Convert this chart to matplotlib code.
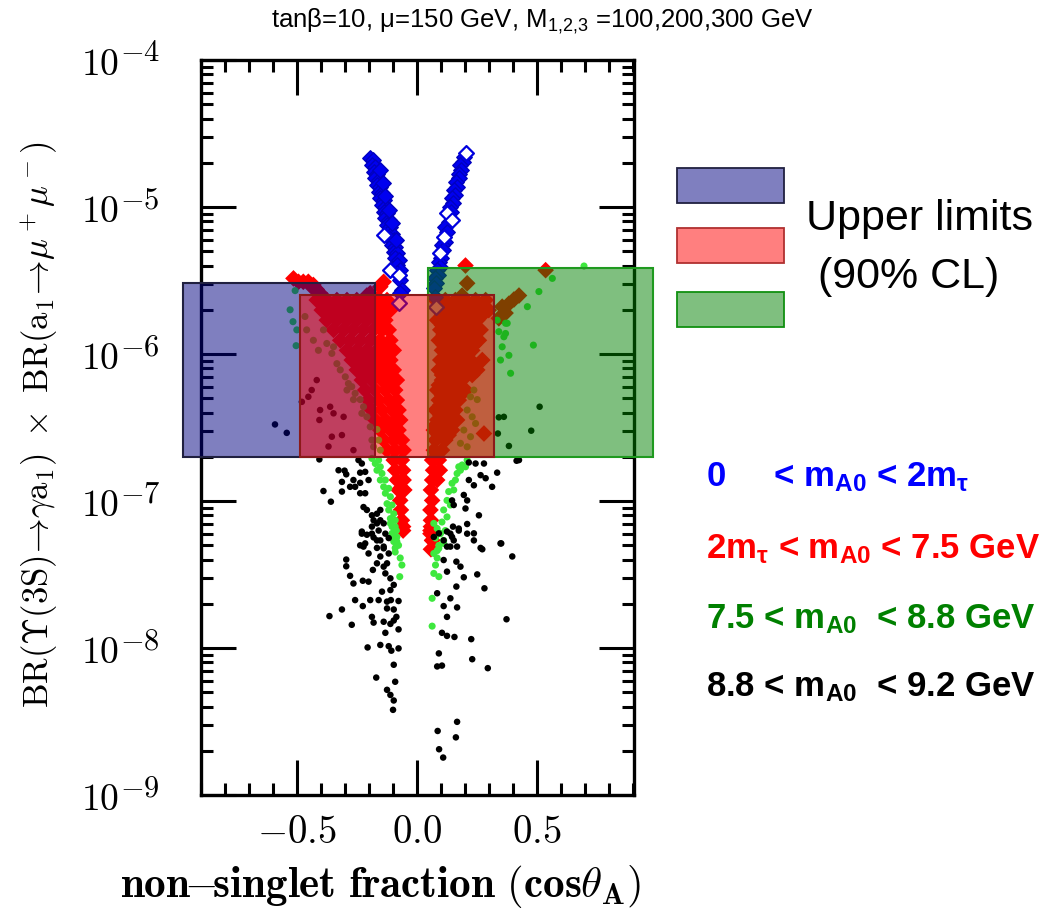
import matplotlib
matplotlib.use("Agg")
import matplotlib.pyplot as plt
from matplotlib.patches import Rectangle
from matplotlib.ticker import FixedLocator, MultipleLocator, NullFormatter
from matplotlib.transforms import blended_transform_factory, offset_copy
import numpy as np

plt.rcParams['mathtext.fontset'] = 'cm'
plt.rcParams['mathtext.rm'] = 'Liberation Sans'
plt.rcParams['mathtext.it'] = 'Liberation Sans:italic'
plt.rcParams['mathtext.bf'] = 'Liberation Sans:bold'

# ---------------- data ----------------
blue_x = [-0.195,-0.184,-0.188,-0.174,-0.181,-0.167,-0.174,-0.160,-0.167,-0.153,-0.160,-0.146,-0.153,-0.139,
          -0.146,-0.132,-0.139,-0.125,-0.132,-0.118,-0.125,-0.111,-0.118,-0.104,-0.136,-0.111,-0.097,-0.104,
          -0.091,-0.097,-0.084,-0.091,-0.077,-0.084,-0.111,-0.072,-0.077,-0.070,-0.084,-0.063,-0.070,-0.077,
          -0.153,-0.142,-0.132,-0.118,-0.104,-0.086,
          0.205,0.195,0.192,0.181,0.184,0.174,0.175,0.164,0.167,0.156,0.160,0.146,0.150,0.136,0.142,0.125,
          0.146,0.132,0.118,0.125,0.111,0.116,0.104,0.109,0.097,0.102,0.091,0.095,0.084,0.086,0.077,0.081,
          0.072,0.077,0.081]
blue_y = [2.14e-5,2.09e-5,1.93e-5,1.88e-5,1.74e-5,1.69e-5,1.57e-5,1.53e-5,1.41e-5,1.37e-5,1.27e-5,1.24e-5,
          1.15e-5,1.12e-5,1.03e-5,1.00e-5,9.3e-6,9.06e-6,8.4e-6,8.2e-6,7.55e-6,7.35e-6,6.8e-6,6.6e-6,6.45e-6,
          6.1e-6,5.96e-6,5.5e-6,5.37e-6,4.97e-6,4.84e-6,4.48e-6,4.36e-6,4.03e-6,3.73e-6,3.73e-6,3.45e-6,
          3.19e-6,3.54e-6,2.72e-6,2.59e-6,2.21e-6,
          1.79e-5,1.45e-5,1.18e-5,9.5e-6,7.8e-6,5.96e-6,
          2.32e-5,2.20e-5,2.03e-5,1.93e-5,1.79e-5,1.69e-5,1.57e-5,1.49e-5,1.37e-5,1.31e-5,1.21e-5,1.15e-5,
          1.06e-5,1.00e-5,9.3e-6,9.06e-6,8.2e-6,7.95e-6,7.35e-6,6.8e-6,6.28e-6,5.8e-6,5.5e-6,5.1e-6,4.84e-6,
          4.48e-6,4.25e-6,3.93e-6,3.73e-6,3.45e-6,3.27e-6,3.03e-6,2.80e-6,2.46e-6,2.10e-6]
blue_open_x = [-0.136,-0.111,-0.077,-0.077,0.205,0.125,0.146,0.111,0.097,0.081]
blue_open_y = [6.45e-6,3.73e-6,3.45e-6,2.21e-6,2.32e-5,9.06e-6,8.2e-6,6.28e-6,4.84e-6,2.10e-6]

red_x = [-0.515,-0.494,-0.474,-0.453,-0.439,-0.418,-0.404,-0.432,-0.139,-0.153,-0.160,-0.209,-0.195,
         -0.418,-0.376,-0.334,-0.292,-0.251,-0.209,-0.167,-0.125,
         -0.397,-0.355,-0.313,-0.272,-0.230,-0.188,-0.146,-0.111,
         -0.376,-0.334,-0.292,-0.251,-0.209,-0.167,-0.132,
         -0.348,-0.306,-0.265,-0.223,-0.181,-0.146,-0.118,
         -0.320,-0.279,-0.237,-0.195,-0.153,-0.111,
         -0.292,-0.251,-0.209,-0.167,-0.132,-0.097,
         -0.272,-0.230,-0.188,-0.146,-0.111,
         -0.251,-0.209,-0.167,-0.125,-0.097,
         -0.230,-0.188,-0.146,-0.111,-0.084,
         -0.216,-0.174,-0.132,-0.091,
         -0.202,-0.160,-0.118,-0.084,
         -0.188,-0.146,-0.104,-0.077,
         -0.174,-0.132,-0.091,-0.070,
         -0.153,-0.111,-0.077,
         -0.139,-0.097,-0.063,
         -0.125,-0.091,-0.056,
         -0.097,-0.063,-0.091,-0.058,-0.084,-0.056,-0.077,-0.053,
         -0.070,-0.067,-0.063,-0.058,-0.058,
         0.077,0.118,0.160,0.202,0.244,0.286,
         0.091,0.132,0.174,0.216,0.258,0.299,
         0.084,0.125,0.167,0.209,0.251,
         0.097,0.139,0.181,0.223,0.265,
         0.091,0.132,0.174,0.216,0.258,
         0.104,0.146,0.188,0.230,
         0.097,0.139,0.181,0.223,0.272,
         0.091,0.125,0.167,0.209,0.251,
         0.104,0.146,0.188,
         0.084,0.125,0.167,0.202,
         0.091,0.132,0.174,
         0.077,0.118,0.160,
         0.084,0.125,0.167,
         0.070,0.111,0.146,
         0.077,0.118,
         0.070,0.104,
         0.063,0.091,0.067,0.095,0.063,0.084,
         0.058,0.063,0.056,0.058,0.056,0.063,0.058,0.056,0.063,0.058,
         0.202,0.209,0.188,0.153,0.237,0.536,0.355,0.383,0.404,0.425,0.369,0.341,0.279,
         0.097,0.139,0.181,0.223,0.265,
         0.104,0.146,0.188,0.230,0.272,
         0.104,0.146,0.188,0.230,
         0.111,0.153,0.195,0.237,
         0.111,0.153,0.195,0.237,
         0.125,0.167,0.209,
         0.111,0.160,0.202,0.244,
         0.104,0.146,0.188,0.230,
         0.091,0.125,0.167,
         0.104,0.146,0.181,
         0.097,0.139,
         0.097,0.139,
         0.077,0.118,
         0.091,0.132]
red_y = [3.27e-6,3.1e-6,3.1e-6,3.1e-6,2.87e-6,2.75e-6,2.59e-6,2.95e-6,3.1e-6,2.87e-6,2.4e-6,2.5e-6,2.59e-6,
         2.33e-6,2.33e-6,2.33e-6,2.33e-6,2.33e-6,2.33e-6,2.33e-6,2.33e-6,
         1.99e-6,1.99e-6,1.99e-6,1.99e-6,1.99e-6,1.99e-6,1.99e-6,1.99e-6,
         1.70e-6,1.70e-6,1.70e-6,1.70e-6,1.70e-6,1.70e-6,1.70e-6,
         1.46e-6,1.46e-6,1.46e-6,1.46e-6,1.46e-6,1.46e-6,1.46e-6,
         1.24e-6,1.24e-6,1.24e-6,1.24e-6,1.24e-6,1.24e-6,
         1.06e-6,1.06e-6,1.06e-6,1.06e-6,1.06e-6,1.06e-6,
         9.1e-7,9.1e-7,9.1e-7,9.1e-7,9.1e-7,
         7.8e-7,7.8e-7,7.8e-7,7.8e-7,7.8e-7,
         6.65e-7,6.65e-7,6.65e-7,6.65e-7,6.65e-7,
         5.69e-7,5.69e-7,5.69e-7,5.69e-7,
         4.86e-7,4.86e-7,4.86e-7,4.86e-7,
         4.16e-7,4.16e-7,4.16e-7,4.16e-7,
         3.56e-7,3.56e-7,3.56e-7,3.56e-7,
         3.04e-7,3.04e-7,3.04e-7,
         2.60e-7,2.60e-7,2.60e-7,
         2.22e-7,2.22e-7,2.22e-7,
         1.90e-7,1.90e-7,1.62e-7,1.62e-7,1.39e-7,1.39e-7,1.19e-7,1.19e-7,
         1.01e-7,8.7e-8,7.4e-8,6.3e-8,6.7e-8,
         2.33e-6,2.33e-6,2.33e-6,2.33e-6,2.33e-6,2.33e-6,
         1.99e-6,1.99e-6,1.99e-6,1.99e-6,1.99e-6,1.99e-6,
         1.70e-6,1.70e-6,1.70e-6,1.70e-6,1.70e-6,
         1.46e-6,1.46e-6,1.46e-6,1.46e-6,1.46e-6,
         1.24e-6,1.24e-6,1.24e-6,1.24e-6,1.24e-6,
         1.06e-6,1.06e-6,1.06e-6,1.06e-6,
         9.1e-7,9.1e-7,9.1e-7,9.1e-7,9.1e-7,
         7.8e-7,7.8e-7,7.8e-7,7.8e-7,7.8e-7,
         6.65e-7,6.65e-7,6.65e-7,
         5.69e-7,5.69e-7,5.69e-7,5.69e-7,
         4.86e-7,4.86e-7,4.86e-7,
         4.16e-7,4.16e-7,4.16e-7,
         3.56e-7,3.56e-7,3.56e-7,
         3.04e-7,3.04e-7,3.04e-7,
         2.60e-7,2.60e-7,
         2.22e-7,2.22e-7,
         1.90e-7,1.90e-7,1.62e-7,1.62e-7,1.39e-7,1.39e-7,
         1.19e-7,1.01e-7,8.7e-8,7.4e-8,6.3e-8,5.4e-8,6.7e-8,6.0e-8,5.4e-8,4.7e-8,
         4.0e-6,3.03e-6,2.5e-6,2.1e-6,2.05e-6,3.72e-6,2.1e-6,2.2e-6,2.35e-6,2.5e-6,1.9e-6,1.75e-6,2.88e-7,
         2.15e-6,2.15e-6,2.15e-6,2.15e-6,2.15e-6,
         1.84e-6,1.84e-6,1.84e-6,1.84e-6,1.84e-6,
         1.57e-6,1.57e-6,1.57e-6,1.57e-6,
         1.35e-6,1.35e-6,1.35e-6,1.35e-6,
         1.15e-6,1.15e-6,1.15e-6,1.15e-6,
         9.8e-7,9.8e-7,9.8e-7,
         8.4e-7,8.4e-7,8.4e-7,8.4e-7,
         7.2e-7,7.2e-7,7.2e-7,7.2e-7,
         6.15e-7,6.15e-7,6.15e-7,
         5.26e-7,5.26e-7,5.26e-7,
         4.5e-7,4.5e-7,
         3.85e-7,3.85e-7,
         3.29e-7,3.29e-7,
         2.81e-7,2.81e-7]

green_x = [-0.188,-0.174,-0.160,-0.153,-0.167,-0.146,-0.153,-0.132,-0.139,-0.118,-0.132,-0.111,-0.125,-0.104,
           -0.118,-0.097,-0.111,-0.091,-0.104,-0.086,-0.097,-0.084,-0.091,
           -0.111,-0.091,-0.104,-0.084,-0.097,-0.077,-0.091,-0.070,-0.063,-0.072,
           0.209,0.188,0.181,0.167,0.160,0.146,0.153,0.132,0.125,0.139,0.111,0.125,0.104,0.118,0.097,0.111,
           0.091,0.084,0.174,0.202,
           0.070,0.084,0.097,0.077,0.111,0.091,0.070,0.084,0.077,0.070,0.091,0.063,0.063,
           -0.508,-0.529,-0.517,-0.501,-0.504,
           -0.467,-0.460,-0.432,-0.411,-0.376,-0.355,-0.334,-0.320,-0.299,-0.286,-0.272,-0.258,-0.237,-0.223,
           -0.209,-0.195,-0.188,-0.181,-0.390,-0.348,-0.292,-0.265,-0.230,
           -0.167,-0.160,-0.153,
           0.237,0.223,0.251,0.209,0.230,0.244,0.195,0.223,0.181,0.209,
           0.341,0.362,0.355,0.390,0.383,0.348,0.460,0.485,0.334,0.369,
           0.564,0.508,0.696,0.376,0.369]
green_y = [1.95e-7,1.80e-7,1.90e-7,1.71e-7,1.62e-7,1.54e-7,1.39e-7,1.39e-7,1.25e-7,1.22e-7,1.13e-7,1.07e-7,
           9.6e-8,9.4e-8,8.7e-8,8.2e-8,7.6e-8,7.4e-8,6.7e-8,6.3e-8,5.7e-8,5.3e-8,4.8e-8,
           7.05e-8,6.7e-8,6.03e-8,5.7e-8,5.3e-8,5.0e-8,4.5e-8,4.1e-8,3.67e-8,3.06e-8,
           1.90e-7,1.76e-7,1.62e-7,1.54e-7,1.39e-7,1.32e-7,1.19e-7,1.16e-7,1.01e-7,9.4e-8,8.7e-8,7.8e-8,
           7.2e-8,6.3e-8,6.0e-8,5.4e-8,5.0e-8,4.6e-8,1.71e-7,1.71e-7,
           7.05e-8,6.5e-8,6.03e-8,5.6e-8,5.15e-8,4.77e-8,4.4e-8,4.1e-8,3.67e-8,3.22e-8,3.06e-8,2.18e-8,1.41e-8,
           2.7e-6,2.0e-6,1.66e-6,1.46e-6,1.14e-6,
           1.80e-6,1.46e-6,1.24e-6,1.06e-6,1.18e-6,1.01e-6,8.6e-7,7.8e-7,7.0e-7,6.3e-7,6.0e-7,5.4e-7,4.9e-7,
           4.38e-7,3.74e-7,3.2e-7,2.6e-7,2.34e-7,1.46e-6,1.12e-6,5.69e-7,4.9e-7,3.95e-7,
           3.07e-7,2.6e-7,2.22e-7,
           5.69e-7,5.12e-7,4.9e-7,4.16e-7,3.74e-7,3.37e-7,3.04e-7,2.74e-7,2.47e-7,2.34e-7,
           1.42e-6,1.31e-6,1.12e-6,7.4e-7,9.8e-7,9.1e-7,2.10e-6,1.15e-6,1.70e-6,1.62e-6,
           3.27e-6,2.66e-6,3.97e-6,1.62e-6,1.38e-6]

black_x = [-0.230,-0.237,-0.216,-0.202,-0.295,-0.295,-0.279,-0.265,-0.226,-0.202,-0.184,-0.167,-0.153,-0.139,
           -0.125,-0.118,-0.132,-0.111,-0.097,-0.146,-0.111,-0.258,-0.226,-0.195,-0.160,-0.125,-0.109,-0.077,
           -0.125,-0.097,-0.086,-0.188,-0.181,-0.272,-0.313,-0.365,-0.139,-0.111,-0.097,-0.077,-0.132,-0.153,
           -0.118,-0.077,-0.107,-0.206,-0.170,-0.097,-0.091,-0.125,-0.111,-0.097,-0.100,-0.181,-0.153,-0.139,
           -0.188,-0.167,
           0.070,0.091,0.125,0.146,0.139,0.174,0.209,0.237,0.272,0.348,0.397,0.111,0.125,0.164,0.181,0.195,
           0.251,0.281,0.164,0.084,0.139,0.111,0.167,0.125,0.104,0.125,0.156,0.226,0.230,0.295,0.091,0.084,
           0.104,0.373,0.167,0.086,0.162,0.092,0.109,
           -0.407,-0.327,-0.295,-0.302,-0.237,-0.244,-0.230,-0.313,-0.265,-0.237,-0.258,-0.216,-0.202,-0.390,
           -0.313,-0.279,-0.237,-0.216,-0.359,-0.223,-0.209,-0.188,-0.181,-0.167,-0.153,-0.153,-0.139,-0.230,
           -0.209,-0.188,-0.167,-0.160,-0.132,-0.223,-0.167,-0.139,-0.118,
           0.216,0.244,0.279,0.415,0.425,0.265,0.286,0.334,0.216,0.237,0.313,0.195,0.209,0.153,0.202,0.258,
           0.174,0.209,0.237,0.265,0.351,0.139,0.153,0.167,0.111,0.125,0.150,0.146,
           -0.592,-0.543,0.511,0.476,0.383,0.341,0.362,0.337,
           -0.480,-0.453,-0.439,-0.418,-0.404,-0.362,-0.348,-0.355,-0.313,-0.306,-0.407,-0.369,-0.265]
black_y = [6.0e-8,5.0e-8,5.15e-8,4.4e-8,4.0e-8,3.6e-8,3.1e-8,2.75e-8,2.87e-8,2.83e-8,3.4e-8,3.77e-8,4.2e-8,
           3.58e-8,3.77e-8,4.4e-8,3.22e-8,2.98e-8,2.69e-8,2.42e-8,2.48e-8,2.12e-8,1.93e-8,2.12e-8,2.12e-8,
           2.07e-8,2.12e-8,2.09e-8,1.86e-8,1.83e-8,1.63e-8,1.63e-8,1.49e-8,1.44e-8,1.83e-8,1.65e-8,1.51e-8,
           1.46e-8,1.54e-8,1.34e-8,1.27e-8,1.05e-8,1.03e-8,9.95e-9,9.6e-9,1.01e-8,6.3e-9,7.7e-9,5.9e-9,5.2e-9,
           4.8e-9,4.4e-9,3.8e-9,5.66e-8,5.4e-8,4.77e-8,6.7e-8,7.05e-8,
           5.7e-8,6.03e-8,6.2e-8,5.7e-8,4.9e-8,6.5e-8,6.98e-8,6.03e-8,4.7e-8,5.15e-8,4.2e-8,3.97e-8,3.31e-8,
           3.87e-8,3.58e-8,3.03e-8,3.17e-8,2.55e-8,2.62e-8,2.36e-8,2.18e-8,1.93e-8,1.89e-8,1.63e-8,1.27e-8,
           1.21e-8,1.19e-8,1.15e-8,8.4e-9,7.3e-9,9.2e-9,7.5e-9,7.6e-9,1.57e-8,3.15e-9,2.73e-9,2.47e-9,2.05e-9,
           1.80e-9,
           1.92e-7,1.62e-7,1.52e-7,1.61e-7,1.56e-7,1.90e-7,1.80e-7,1.35e-7,1.39e-7,1.33e-7,1.25e-7,1.58e-7,
           1.39e-7,1.17e-7,1.16e-7,1.25e-7,1.13e-7,1.13e-7,9.9e-8,9.1e-8,8.7e-8,8.0e-8,7.4e-8,8.2e-8,8.7e-8,
           7.4e-8,7.05e-8,6.2e-8,5.9e-8,6.0e-8,5.4e-8,6.3e-8,6.0e-8,4.9e-8,4.8e-8,4.9e-8,5.6e-8,
           1.83e-7,1.80e-7,1.80e-7,1.88e-7,1.90e-7,1.50e-7,1.43e-7,1.56e-7,1.39e-7,1.28e-7,1.25e-7,1.10e-7,
           1.01e-7,9.4e-8,8.9e-8,8.0e-8,6.3e-8,6.0e-8,5.4e-8,4.8e-8,5.15e-8,6.0e-8,5.4e-8,4.9e-8,5.4e-8,4.9e-8,
           6.7e-8,1.01e-7,
           3.32e-7,2.91e-7,4.38e-7,3.01e-7,2.37e-7,3.71e-7,3.74e-7,2.88e-7,
           4.73e-7,5.12e-7,5.69e-7,6.65e-7,4.16e-7,4.38e-7,3.95e-7,2.74e-7,2.81e-7,3.74e-7,3.56e-7,2.35e-7,2.22e-7]

# upper-limit boxes: blue, green, red (x0, x1, y0, y1)
box_x0 = [-0.976, 0.047, -0.487]
box_x1 = [-0.174, 0.983, 0.319]
box_y0 = [2.0e-7, 2.0e-7, 2.0e-7]
box_y1 = [3.05e-6, 3.85e-6, 2.52e-6]
box_face = [(0.0, 0.0, 0.5, 0.5), (0.0, 0.5, 0.0, 0.5), (1.0, 0.0, 0.0, 0.5)]
box_edge = ['#202040', '#1f9a1f', '#8b1a1a']

x_ticks = [-0.5, 0.0, 0.5]
x_ticklabels = [r'$-0.5$', r'$0.0$', r'$0.5$']
y_ticks = [1e-9, 1e-8, 1e-7, 1e-6, 1e-5, 1e-4]
y_exponents = ['-9', '-8', '-7', '-6', '-5', '-4']

# ---------------- figure ----------------
fig = plt.figure(figsize=(10.64, 9.16), dpi=100)
ax = fig.add_axes([0.189, 0.132, 0.407, 0.8025])
ax.set_yscale('log')
ax.set_xlim(-0.9, 0.905)
ax.set_ylim(1e-9, 1e-4)

ax.scatter(red_x, red_y, marker='D', s=72, color='#ff0000', edgecolors='none', zorder=2)
ax.scatter(green_x, green_y, marker='o', s=26, color='#3ee83e', edgecolors='none', zorder=3)
ax.scatter(black_x, black_y, marker='o', s=22, color='black', edgecolors='none', zorder=3)
ax.scatter(blue_x, blue_y, marker='D', s=62, color='#0000f0', edgecolors='#0000c0', linewidths=1.0, zorder=3)
ax.scatter(blue_open_x, blue_open_y, marker='D', s=55, facecolors='white', edgecolors='#0000e0',
           linewidths=1.5, zorder=3)

for x0, x1, y0, y1, fc, ec in zip(box_x0, box_x1, box_y0, box_y1, box_face, box_edge):
    ax.add_patch(Rectangle((x0, y0), x1 - x0, y1 - y0, facecolor=fc, edgecolor=ec,
                           linewidth=1.5, zorder=5, clip_on=False))

ax.xaxis.set_major_locator(FixedLocator(x_ticks))
ax.xaxis.set_minor_locator(MultipleLocator(0.1))
ax.set_xticklabels(x_ticklabels)
ax.yaxis.set_major_locator(FixedLocator(y_ticks))
ax.yaxis.set_minor_locator(FixedLocator([m * 10.0 ** e for e in range(-9, -4) for m in range(2, 10)]))
ax.yaxis.set_major_formatter(NullFormatter())
ax.yaxis.set_minor_formatter(NullFormatter())
ax.tick_params(which='both', direction='in', top=True, right=True, width=2.2, colors='black')
ax.tick_params(which='major', length=25)
ax.tick_params(axis='x', which='major', pad=13, labelsize=28)
ax.tick_params(which='minor', length=8.5)
for sp in ax.spines.values():
    sp.set_linewidth(2.4)

# y tick labels: "10" with a large exponent
ytr = blended_transform_factory(ax.transAxes, ax.transData)
base_tr = offset_copy(ytr, fig=fig, x=0, y=-15, units='dots')
exp_tr = offset_copy(ytr, fig=fig, x=0, y=-1, units='dots')
for val, ex in zip(y_ticks, y_exponents):
    ax.text((119 - 201) / 433, val, r'$10$', transform=base_tr, ha='right', va='baseline',
            fontsize=27, clip_on=False)
    ax.text((120 - 201) / 433, val, r'$' + ex + '$', transform=exp_tr, ha='left', va='baseline',
            fontsize=22, clip_on=False)

# axis labels
fig.text(40 / 1064, 1 - 425 / 916,
         r'$\mathrm{BR}(\Upsilon(3\mathrm{S})\!\rightarrow\!\gamma\mathrm{a}_1)\ \times\ \mathrm{BR}(\mathrm{a}_1\!\rightarrow\!\mu^+\mu^-)$',
         rotation=90, ha='center', va='center', fontsize=25)
fig.text(381 / 1064, 1 - 886 / 916,
         r'$\mathbf{non\!\!-\!\!singlet\ fraction\ (cos}\theta_\mathbf{A}\mathbf{)}$',
         ha='center', va='center', fontsize=31)

# title
fig.text(542 / 1064, 1 - 27 / 916, 'tanβ=10, μ=150 GeV, M$_{1{,}2{,}3}$ =100,200,300 GeV',
         ha='center', va='baseline', fontsize=18.5, family='Liberation Sans', math_fontfamily='custom')

# legend boxes
leg_y = [1 - 203 / 916, 1 - 263.3 / 916, 1 - 326.7 / 916]
leg_face = [box_face[0], box_face[2], box_face[1]]
leg_edge = ['#202040', '#b03030', '#109010']
for yy, fc, ec in zip(leg_y, leg_face, leg_edge):
    fig.patches.append(Rectangle((677 / 1064, yy), 107 / 1064, 35 / 916, facecolor=fc, edgecolor=ec,
                                 linewidth=1.3, transform=fig.transFigure, figure=fig))
fig.text(806 / 1064, 1 - 230 / 916, 'Upper limits', fontsize=31, family='Liberation Sans', va='baseline')
fig.text(818 / 1064, 1 - 288 / 916, '(90% CL)', fontsize=31, family='Liberation Sans', va='baseline')

range_labels = [r'0     < m$_{\mathbf{A0}}$ < 2m$_{\mathbf{\tau}}$',
                r'2m$_{\mathbf{\tau}}$ < m$_{\mathbf{A0}}$ < 7.5 GeV',
                r'7.5 < m$_{\mathbf{A0}}$  < 8.8 GeV',
                r'8.8 < m$_{\mathbf{A0}}$  < 9.2 GeV']
range_colors = ['#0000ff', '#ff0000', '#008000', '#000000']
range_base = [486.7, 558.3, 628.3, 696.7]
for lab, col, yb in zip(range_labels, range_colors, range_base):
    fig.text(706 / 1064, 1 - yb / 916, lab, color=col, fontsize=25, fontweight='bold',
             family='Liberation Sans', va='baseline', math_fontfamily='custom')

fig.savefig('out.png', dpi=100)
